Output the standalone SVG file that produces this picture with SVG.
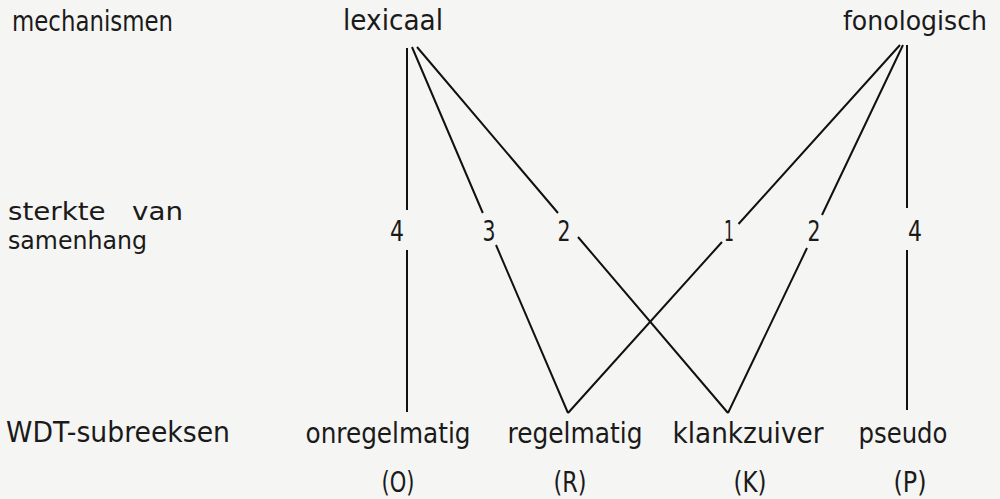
<svg xmlns="http://www.w3.org/2000/svg" width="1000" height="499" viewBox="0 0 1000 499">
<style>
text{font-family:"DejaVu Sans","Liberation Sans",sans-serif;font-size:29px;fill:#1a1a1a}
.c{text-anchor:middle}
.d{font-size:28px}
.s{font-size:24px;white-space:pre}
.ln{stroke:#111;stroke-width:2;fill:none;stroke-linecap:butt}
</style>
<rect width="1000" height="499" fill="#f5f5f3"/>
<g id="row-labels">
<text x="12" y="31" textLength="161" lengthAdjust="spacingAndGlyphs">mechanismen</text>
<text class="s" x="8" y="220" textLength="175" lengthAdjust="spacingAndGlyphs">sterkte   van</text>
<text class="s" x="8" y="249" textLength="139" lengthAdjust="spacingAndGlyphs">samenhang</text>
<text x="6" y="442" textLength="224" lengthAdjust="spacingAndGlyphs">WDT-subreeksen</text>
</g>
<g id="node-lexicaal"><text x="393" y="30" class="c" textLength="100" lengthAdjust="spacingAndGlyphs">lexicaal</text></g>
<g id="node-fonologisch"><text x="915" y="30" class="c" style="font-size:27px" textLength="144" lengthAdjust="spacingAndGlyphs">fonologisch</text></g>
<g id="node-onregelmatig"><text x="388" y="443" class="c" textLength="165" lengthAdjust="spacingAndGlyphs">onregelmatig</text><text x="398" y="492" class="c" textLength="33" lengthAdjust="spacingAndGlyphs">(O)</text></g>
<g id="node-regelmatig"><text x="575" y="443" class="c" textLength="135" lengthAdjust="spacingAndGlyphs">regelmatig</text><text x="570" y="492" class="c" textLength="33" lengthAdjust="spacingAndGlyphs">(R)</text></g>
<g id="node-klankzuiver"><text x="748" y="443" class="c" textLength="151" lengthAdjust="spacingAndGlyphs">klankzuiver</text><text x="750" y="492" class="c" textLength="33" lengthAdjust="spacingAndGlyphs">(K)</text></g>
<g id="node-pseudo"><text x="903" y="443" class="c" textLength="89" lengthAdjust="spacingAndGlyphs">pseudo</text><text x="910" y="492" class="c" textLength="33" lengthAdjust="spacingAndGlyphs">(P)</text></g>
<g id="connectors">
<path class="ln" d="M407 48V210M407 250V412"/>
<path class="ln" d="M412 47L482.8 213M496 245L568 413"/>
<path class="ln" d="M417 47L558 213M578 237L728 413"/>
<path class="ln" d="M900 45L738.5 224M722 242L568 413"/>
<path class="ln" d="M903 45L822 215M807 248L728 413"/>
<path class="ln" d="M907 45V208M907 250V410"/>
</g>
<g id="weights">
<text x="397" y="241" class="c d" textLength="14" lengthAdjust="spacingAndGlyphs">4</text>
<text x="489" y="241" class="c d" textLength="13" lengthAdjust="spacingAndGlyphs">3</text>
<text x="564" y="241" class="c d" textLength="13" lengthAdjust="spacingAndGlyphs">2</text>
<text x="729" y="241" class="c d" textLength="10" lengthAdjust="spacingAndGlyphs">1</text>
<text x="814" y="241" class="c d" textLength="13" lengthAdjust="spacingAndGlyphs">2</text>
<text x="915" y="241" class="c d" textLength="14" lengthAdjust="spacingAndGlyphs">4</text>
</g>
</svg>
